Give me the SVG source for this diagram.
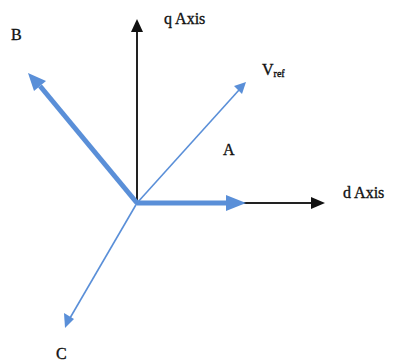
<svg xmlns="http://www.w3.org/2000/svg" width="395" height="363" viewBox="0 0 395 363">
<style>
.ax{stroke:#222;stroke-width:2;fill:none}
.thick{stroke:#5A8FD8;stroke-width:5;fill:none}
.thin{stroke:#5A8FD8;stroke-width:1.6;fill:none}
.head{fill:#5A8FD8}
.khead{fill:#111}
text{font-family:"Liberation Serif","Times New Roman",serif;font-size:16px;fill:#111;stroke:#111;stroke-width:0.35}
</style>
<g id="connectors">
<line class="ax" x1="137" y1="203" x2="137" y2="30"/>
<path class="khead" d="M131,32 L137,19 L143,32 z"/>
<line class="ax" x1="137" y1="203" x2="312" y2="203"/>
<path class="khead" d="M311,197 L325,203 L311,209 z"/>
<line class="thick" x1="137" y1="203" x2="228" y2="203"/>
<path class="head" d="M226,195 L246,203 L226,211 z"/>
<line class="thick" x1="137" y1="203" x2="40" y2="86"/>
<path class="head" d="M34,91 L28,73 L46,81 z"/>
<line class="thin" x1="137" y1="203" x2="239" y2="90"/>
<path class="head" d="M234,86 L246,82 L242,94 z"/>
<line class="thin" x1="137" y1="203" x2="70" y2="318"/>
<path class="head" d="M64,313 L65,328 L74,319 z"/>
</g>
<g id="label-q"><text x="164" y="24">q Axis</text></g>
<g id="label-d"><text x="343" y="198">d Axis</text></g>
<g id="label-B"><text x="11" y="40">B</text></g>
<g id="label-A"><text x="223" y="155">A</text></g>
<g id="label-C"><text x="56" y="359">C</text></g>
<g id="label-Vref"><text x="262" y="75">V<tspan font-size="10" dy="2">ref</tspan></text></g>
</svg>
